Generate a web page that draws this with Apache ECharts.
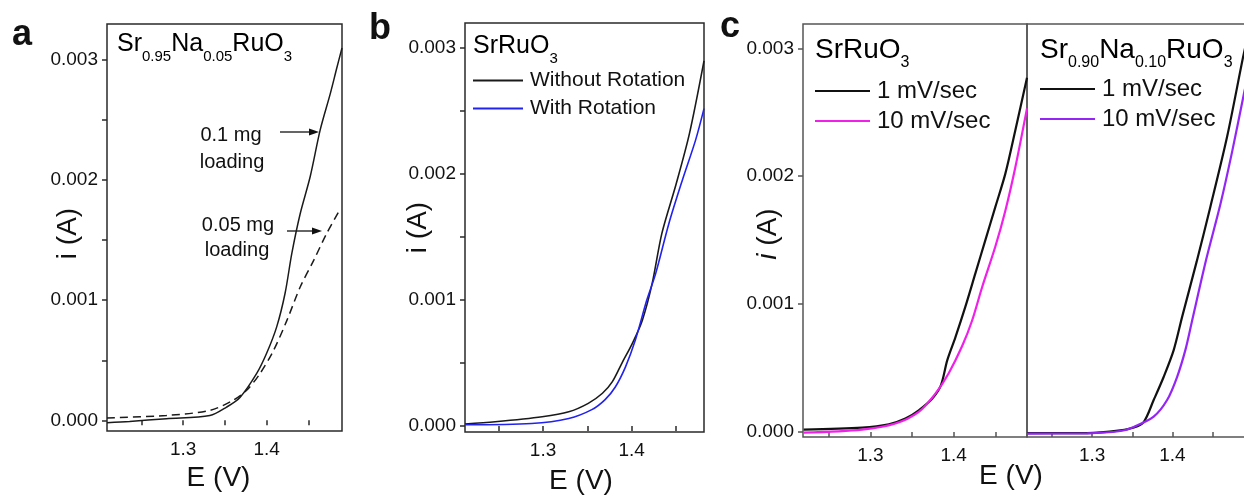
<!DOCTYPE html>
<html><head><meta charset="utf-8">
<script src="https://cdn.jsdelivr.net/npm/echarts@6/dist/echarts.min.js"></script>
<style>html,body{margin:0;padding:0;background:#fff}#c{width:1244px;height:496px}</style>
</head><body><div id="c"></div>
<script>
// ---------- DATA ----------
// Panel a: Sr0.95Na0.05RuO3, two loadings
const aSolidE = [1.209, 1.236, 1.280, 1.332, 1.352, 1.368, 1.388, 1.400, 1.412, 1.422, 1.430, 1.440, 1.452, 1.464, 1.476, 1.484, 1.490];
const aSolidI = [-0.00002, -0.00001, 0.000014, 0.00004, 0.00011, 0.00019, 0.00039, 0.00056, 0.00078, 0.00106, 0.00139, 0.00172, 0.00203, 0.00242, 0.00272, 0.00294, 0.00310];
const aDashE = [1.209, 1.280, 1.332, 1.360, 1.376, 1.392, 1.408, 1.424, 1.440, 1.456, 1.472, 1.488];
const aDashI = [0.00002, 0.00004, 0.000083, 0.000167, 0.00025, 0.00039, 0.00058, 0.00083, 0.00111, 0.00133, 0.00156, 0.00176];
// Panel b: SrRuO3 with / without rotation
const bWithoutE = [1.212, 1.246, 1.299, 1.329, 1.351, 1.367, 1.378, 1.389, 1.401, 1.412, 1.423, 1.434, 1.450, 1.465, 1.4815];
const bWithoutI = [0.000016, 0.000034, 0.000074, 0.000113, 0.00018, 0.00026, 0.00035, 0.0005, 0.00066, 0.00084, 0.00113, 0.00153, 0.00192, 0.00232, 0.0029];
const bWithE = [1.212, 1.287, 1.329, 1.355, 1.370, 1.3815, 1.393, 1.404, 1.417, 1.427, 1.442, 1.457, 1.472, 1.4815];
const bWithI = [0.00001, 0.00002, 0.00006, 0.00013, 0.00021, 0.00031, 0.00047, 0.00068, 0.001, 0.00121, 0.00161, 0.00195, 0.00227, 0.00252];
// Panel c (left): SrRuO3, scan rates
const c1SlowE = [1.2198, 1.290, 1.322, 1.342, 1.358, 1.374, 1.3846, 1.3922, 1.402, 1.414, 1.426, 1.438, 1.450, 1.462, 1.474, 1.488];
const c1SlowI = [0.000019, 0.000034, 0.00006, 0.000105, 0.00017, 0.00026, 0.000365, 0.00056, 0.00074, 0.00098, 0.00124, 0.0015, 0.00176, 0.00202, 0.00236, 0.00277];
const c1FastE = [1.2198, 1.290, 1.330, 1.358, 1.378, 1.394, 1.410, 1.422, 1.434, 1.450, 1.462, 1.474, 1.488];
const c1FastI = [-0.000005, 0.000019, 0.000066, 0.000157, 0.0003, 0.00046, 0.00067, 0.00087, 0.00113, 0.00145, 0.00173, 0.00207, 0.00253];
// Panel c (right): Sr0.90Na0.10RuO3, scan rates
const c2SlowE = [1.2191, 1.294, 1.335, 1.352, 1.3642, 1.3766, 1.389, 1.4015, 1.412, 1.430, 1.4471, 1.468, 1.4878, 1.4927];
const c2SlowI = [-0.000008, -0.000008, 0.000013, 0.000035, 0.000078, 0.00025, 0.00043, 0.00064, 0.0009, 0.00133, 0.00176, 0.00231, 0.00293, 0.00307];
const c2FastE = [1.2191, 1.294, 1.3352, 1.3518, 1.3766, 1.3933, 1.4057, 1.416, 1.4244, 1.442, 1.4596, 1.4745, 1.4894, 1.4927];
const c2FastI = [-0.000012, -0.00001, 0.000008, 0.00004, 0.00012, 0.00025, 0.00043, 0.00064, 0.00087, 0.00135, 0.00178, 0.0022, 0.00266, 0.00275];
// Ticks
const xLabelVals = [1.3, 1.4];
const xTickVals = [1.25, 1.3, 1.35, 1.4, 1.45];
const yLabelVals = [0, 0.001, 0.002, 0.003];
const yTickValsMinor = [0, 0.0005, 0.001, 0.0015, 0.002, 0.0025, 0.003];
// ---------- CHART ----------
const FONT = "'Liberation Sans', Arial, Helvetica, sans-serif";
const zip = (xs, ys) => xs.map((x, k) => [x, ys[k]]);
const chart = echarts.init(document.getElementById('c'), null, {renderer: 'canvas'});

function xAx(gi, min, max, col, extra) {
  return Object.assign({
    type: 'value', gridIndex: gi, min: min, max: max,
    axisLine: {show: false}, splitLine: {show: false}, nameMoveOverlap: false,
    axisTick: {show: true, inside: false, length: 5, customValues: xTickVals, lineStyle: {color: col, width: 1.5}},
    axisLabel: {customValues: xLabelVals, formatter: v => v.toFixed(1), margin: 9, fontSize: 19, color: '#111', fontFamily: FONT},
    nameTextStyle: {fontSize: 28, color: '#111', fontFamily: FONT}
  }, extra || {});
}
function yAx(gi, min, max, col, ticks, extra) {
  return Object.assign({
    type: 'value', gridIndex: gi, min: min, max: max,
    axisLine: {show: false}, splitLine: {show: false}, nameMoveOverlap: false,
    axisTick: {show: true, inside: false, length: 5, customValues: ticks, lineStyle: {color: col, width: 1.5}},
    axisLabel: {customValues: yLabelVals, formatter: v => v.toFixed(3), margin: 9, fontSize: 19, color: '#111', fontFamily: FONT},
    nameTextStyle: {fontSize: 28, color: '#111', fontFamily: FONT}
  }, extra || {});
}
function ln(name, xi, data, color, width, type) {
  return {
    type: 'line', name: name, xAxisIndex: xi, yAxisIndex: xi, data: data,
    symbol: 'none', smooth: 0.3, silent: true,
    lineStyle: {color: color, width: width, type: type || 'solid'}, itemStyle: {color: color}
  };
}
function rich(main, sub) {
  return {
    m: {fontSize: main, fontFamily: FONT, color: '#111', verticalAlign: 'top'},
    s: {fontSize: sub, fontFamily: FONT, color: '#111', verticalAlign: 'top', padding: [Math.round(main * 0.68), 0, 0, 0]}
  };
}
function label(x, y, txt, size, bold, align) {
  return {type: 'text', x: x, y: y, silent: true, style: {
    text: txt, fill: '#111', font: (bold ? 'bold ' : '') + size + 'px ' + FONT,
    align: align || 'left', verticalAlign: 'middle', textAlign: align || 'left', textVerticalAlign: 'middle'}};
}
function legend(names, left, top, w, fs) {
  return {data: names, orient: 'vertical', left: left, top: top, padding: 0, icon: 'rect', itemWidth: w, itemHeight: 2,
    itemGap: 28 - fs + (fs > 22 ? 2 : 0), selectedMode: false, textStyle: {fontSize: fs, color: '#111', fontFamily: FONT, padding: [0, 0, 0, 2]}};
}
const dark = '#2a2a2a', grey = '#555';
const nts = (extra) => Object.assign({fontSize: 28, color: '#111', fontFamily: FONT}, extra);
const gridBase = {show: true, borderWidth: 1.5, containLabel: false, outerBoundsMode: 'none'};
const option = {
  animation: false,
  backgroundColor: '#fff',
  grid: [
    Object.assign({left: 107, top: 24, width: 235, height: 407, borderColor: dark}, gridBase),
    Object.assign({left: 465, top: 23, width: 239, height: 409, borderColor: dark}, gridBase),
    Object.assign({left: 803, top: 24, width: 224, height: 413, borderColor: grey}, gridBase),
    Object.assign({left: 1027, top: 24, width: 222, height: 413, borderColor: grey}, gridBase)
  ],
  xAxis: [
    xAx(0, 1.209, 1.490, dark, {name: 'E (V)', nameLocation: 'middle', nameGap: 33, nameTextStyle: nts({padding: [0, 12, 0, 0]})}),
    xAx(1, 1.212, 1.4815, dark, {name: 'E (V)', nameLocation: 'middle', nameGap: 35, nameTextStyle: nts({padding: [0, 7, 0, 0]})}),
    xAx(2, 1.219, 1.488, grey),
    xAx(3, 1.219, 1.4952, grey)
  ],
  yAxis: [
    yAx(0, -0.000089, 0.0033, dark, yTickValsMinor, {name: 'i (A)', nameLocation: 'middle', nameGap: 25, nameTextStyle: nts({padding: [0, 12, 0, 0]})}),
    yAx(1, -0.0000476, 0.0032, dark, yTickValsMinor, {name: 'i (A)', nameLocation: 'middle', nameGap: 33}),
    yAx(2, -0.000039, 0.00319, grey, yLabelVals, {name: '{it|i} (A)', nameLocation: 'middle', nameGap: 21,
      nameTextStyle: nts({padding: [0, 7, 0, 0], rich: {it: {fontSize: 28, fontStyle: 'italic', fontFamily: FONT, color: '#111'}}})}),
    yAx(3, -0.000039, 0.00319, grey, [], {axisTick: {show: false}, axisLabel: {show: false}})
  ],
  legend: [
    legend(['Without Rotation', 'With Rotation'], 473, 70, 50, 21),
    legend(['1 mV/sec', '10 mV/sec'], 815, 79, 55, 24),
    legend(['1 mV/sec ', '10 mV/sec '], 1040, 77, 55, 24)
  ],
  series: [
    ln('0.1 mg loading', 0, zip(aSolidE, aSolidI), '#1a1a1a', 1.5),
    ln('0.05 mg loading', 0, zip(aDashE, aDashI), '#1a1a1a', 1.5, [8, 5]),
    ln('Without Rotation', 1, zip(bWithoutE, bWithoutI), '#1a1a1a', 1.6),
    ln('With Rotation', 1, zip(bWithE, bWithI), '#2222ee', 1.6),
    ln('1 mV/sec', 2, zip(c1SlowE, c1SlowI), '#111111', 2.2),
    ln('10 mV/sec', 2, zip(c1FastE, c1FastI), '#f020e8', 2.2),
    ln('1 mV/sec ', 3, zip(c2SlowE, c2SlowI), '#111111', 2.2),
    ln('10 mV/sec ', 3, zip(c2FastE, c2FastI), '#9426f5', 2.2)
  ],
  graphic: [
    label(12, 35, 'a', 36, true),
    label(369, 29, 'b', 36, true),
    label(720, 27, 'c', 36, true),
    {type: 'text', x: 117, y: 32, silent: true, style: {text: '{m|Sr}{s|0.95}{m|Na}{s|0.05}{m|RuO}{s|3}', rich: rich(25, 15), verticalAlign: 'top', textVerticalAlign: 'top'}},
    {type: 'text', x: 473, y: 34, silent: true, style: {text: '{m|SrRuO}{s|3}', rich: rich(25, 15), verticalAlign: 'top', textVerticalAlign: 'top'}},
    {type: 'text', x: 815, y: 36, silent: true, style: {text: '{m|SrRuO}{s|3}', rich: rich(28, 16), verticalAlign: 'top', textVerticalAlign: 'top'}},
    {type: 'text', x: 1040, y: 36, silent: true, style: {text: '{m|Sr}{s|0.90}{m|Na}{s|0.10}{m|RuO}{s|3}', rich: rich(28, 16), verticalAlign: 'top', textVerticalAlign: 'top'}},
    label(231, 135, '0.1 mg', 20, false, 'center'),
    label(232, 162, 'loading', 20, false, 'center'),
    label(238, 225, '0.05 mg', 20, false, 'center'),
    label(237, 250, 'loading', 20, false, 'center'),
    {type: 'line', silent: true, shape: {x1: 280, y1: 132, x2: 311, y2: 132}, style: {stroke: '#111', lineWidth: 1.3}},
    {type: 'polygon', silent: true, shape: {points: [[319, 132], [309, 128.5], [309, 135.5]]}, style: {fill: '#111'}},
    {type: 'line', silent: true, shape: {x1: 287, y1: 231, x2: 314, y2: 231}, style: {stroke: '#111', lineWidth: 1.3}},
    {type: 'polygon', silent: true, shape: {points: [[322, 231], [312, 227.5], [312, 234.5]]}, style: {fill: '#111'}},
    label(1011, 476, 'E (V)', 28, false, 'center')
  ]
};
chart.setOption(option);
</script></body></html>
